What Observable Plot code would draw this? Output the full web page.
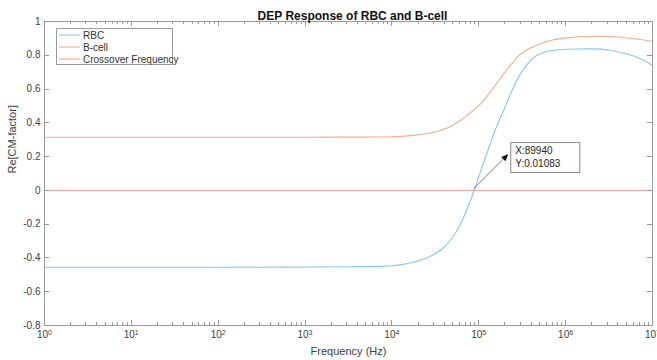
<!DOCTYPE html>
<html><head><meta charset="utf-8">
<script src="https://cdn.jsdelivr.net/npm/d3@7"></script>
<script src="https://cdn.jsdelivr.net/npm/@observablehq/plot@0.6"></script>
<style>body{margin:0;background:#fff;} #chart{width:657px;height:360px;}</style>
</head><body><div id="chart"></div>
<script>
const title = "DEP Response of RBC and B-cell";
const xLabel = "Frequency (Hz)";
const yLabel = "Re[CM-factor]";
const seriesNames = ["RBC", "B-cell", "Crossover Frequency"];
const seriesColors = ["#8cc3ea", "#f3ab8c", "#ff9898"];

const rbcFreq = [1, 10, 100, 1000, 3162, 7328, 10000, 17783, 25119, 35975, 44668, 56234, 72444, 89940, 108893, 128825, 158489, 193197, 251189, 301995, 358922, 426580, 512861, 707946, 870964, 1258925, 2089296, 3162278, 4265795, 6606934, 7943282, 10000000];
const rbcValue = [-0.455, -0.455, -0.455, -0.454, -0.452, -0.450, -0.446, -0.425, -0.400, -0.356, -0.310, -0.237, -0.119, 0.011, 0.137, 0.245, 0.370, 0.473, 0.611, 0.690, 0.745, 0.785, 0.810, 0.828, 0.833, 0.837, 0.838, 0.830, 0.818, 0.789, 0.770, 0.740];

const bcellFreq = [1, 10, 100, 1000, 7328, 10000, 17783, 25119, 35975, 47863, 61235, 75858, 95499, 114815, 134896, 158489, 193197, 239883, 300608, 398107, 512861, 707946, 1037528, 1412538, 2089296, 3162278, 4265795, 6309573, 10000000];
const bcellValue = [0.315, 0.315, 0.315, 0.315, 0.316, 0.318, 0.326, 0.337, 0.355, 0.380, 0.414, 0.450, 0.493, 0.535, 0.582, 0.630, 0.690, 0.750, 0.805, 0.845, 0.868, 0.890, 0.903, 0.910, 0.913, 0.911, 0.907, 0.898, 0.883];

const crossoverFreq = [1, 10000000];
const crossoverValue = [0, 0];

const xMajorTicks = [1, 10, 100, 1000, 10000, 100000, 1000000, 10000000];
const xTickExponents = ["0", "1", "2", "3", "4", "5", "6", "7"];
const yTicks = [-0.8, -0.6, -0.4, -0.2, 0, 0.2, 0.4, 0.6, 0.8, 1];
const yTickLabels = ["-0.8", "-0.6", "-0.4", "-0.2", "0", "0.2", "0.4", "0.6", "0.8", "1"];
const tipX = 89940;
const tipY = 0.01083;
const tipLines = ["X:89940", "Y:0.01083"];

const xMinorTicks = xMajorTicks.slice(0, -1).flatMap(d => [2,3,4,5,6,7,8,9].map(m => d * m));
const rbc = rbcFreq.map((f, i) => ({f, v: rbcValue[i]}));
const bcell = bcellFreq.map((f, i) => ({f, v: bcellValue[i]}));
const cross = crossoverFreq.map((f, i) => ({f, v: crossoverValue[i]}));
const xTickRows = xMajorTicks.map((d, i) => ({d, e: xTickExponents[i]}));

const axisColor = "#9a9a9a";
const font = "'Liberation Sans', Arial, Helvetica, sans-serif";

const plot = Plot.plot({
  width: 657, height: 360,
  marginLeft: 44, marginRight: 5, marginTop: 21, marginBottom: 35,
  style: {fontFamily: font, fontSize: "10px", color: "#404040", background: "#fff", overflow: "visible"},
  x: {type: "log", domain: [1, 10000000], axis: null},
  y: {domain: [-0.8, 1]},
  marks: [
    Plot.line(cross, {x: "f", y: "v", stroke: seriesColors[2], strokeWidth: 1}),
    Plot.line(bcell, {x: "f", y: "v", stroke: seriesColors[1], strokeWidth: 1.1, curve: "monotone-x"}),
    Plot.line(rbc, {x: "f", y: "v", stroke: seriesColors[0], strokeWidth: 1.1, curve: "monotone-x"}),
    Plot.frame({stroke: axisColor}),
    Plot.axisY(yTicks, {anchor: "left", tickSize: 0, tickPadding: 4, tickFormat: (d) => yTickLabels[yTicks.indexOf(d)], label: null, fill: "#404040"}),
    Plot.text(xTickRows, {x: "d", frameAnchor: "bottom", dx: -2, dy: 12.5, text: () => "10", fill: "#404040", fontSize: 10}),
    Plot.text(xTickRows, {x: "d", frameAnchor: "bottom", dx: 3.5, dy: 9, text: "e", textAnchor: "start", fill: "#404040", fontSize: 7}),
    Plot.text([xLabel], {frameAnchor: "bottom", dy: 29, text: d => d, fontSize: 11, fill: "#404040"}),
    Plot.text([yLabel], {frameAnchor: "left", dx: -32, rotate: -90, text: d => d, fontSize: 11, fill: "#404040"}),
    Plot.text([title], {frameAnchor: "top", dx: 4, dy: -10, text: d => d, fontSize: 12, fontWeight: "bold", fill: "#111"})
  ]
});
document.getElementById("chart").appendChild(plot);

const svg = d3.select(plot);
const sx = plot.scale("x"), sy = plot.scale("y");
const [frameL, frameR] = sx.range;
const [frameB, frameT] = sy.range;

// Inward ticks, placed through the plot's own scales
const tg0 = svg.append("g").attr("stroke", axisColor).attr("stroke-width", 1);
const addX = (vals, len) => vals.forEach(v => {
  const x = Math.round(sx.apply(v)) + 0.5;
  tg0.append("line").attr("x1", x).attr("x2", x).attr("y1", frameB).attr("y2", frameB - len);
  tg0.append("line").attr("x1", x).attr("x2", x).attr("y1", frameT).attr("y2", frameT + len);
});
addX(xMajorTicks, 5);
addX(xMinorTicks, 3);
yTicks.forEach(v => {
  const y = Math.round(sy.apply(v)) + 0.5;
  tg0.append("line").attr("x1", frameL).attr("x2", frameL + 5).attr("y1", y).attr("y2", y);
  tg0.append("line").attr("x1", frameR).attr("x2", frameR - 5).attr("y1", y).attr("y2", y);
});

// Legend
const lg = svg.append("g").attr("font-family", font).attr("font-size", 10).attr("text-anchor", "start");
lg.append("rect").attr("x", 56.5).attr("y", 28.5).attr("width", 116).attr("height", 36)
  .attr("fill", "#fff").attr("stroke", axisColor).attr("stroke-width", 1);
seriesNames.forEach((name, i) => {
  const y = 35 + i * 12;
  lg.append("line").attr("x1", 59).attr("x2", 80).attr("y1", y).attr("y2", y)
    .attr("stroke", seriesColors[i]).attr("stroke-width", 1.1);
  lg.append("text").attr("x", 83).attr("y", y).attr("dy", "0.35em").attr("text-anchor", "start").attr("fill", "#333").text(name);
});

// Data tip
const px = sx.apply(tipX);
const py = sy.apply(tipY);
const tg = svg.append("g").attr("font-family", font).attr("font-size", 10).attr("text-anchor", "start");
const ex = px + 34, ey = py - 34;
const ang = Math.atan2(ey - py, ex - px);
const hl = 7, hw = 3;
const bx = ex - hl * Math.cos(ang), by = ey - hl * Math.sin(ang);
tg.append("line").attr("x1", px).attr("y1", py).attr("x2", bx).attr("y2", by).attr("stroke", "#555").attr("stroke-width", 0.8);
tg.append("polygon").attr("points", [
  [ex, ey],
  [bx + hw * Math.sin(ang), by - hw * Math.cos(ang)],
  [bx - hw * Math.sin(ang), by + hw * Math.cos(ang)]
].map(p => p.join(",")).join(" ")).attr("fill", "#111");
tg.append("rect").attr("x", px + 36.5).attr("y", py - 45.5).attr("width", 69).attr("height", 30)
  .attr("fill", "#fff").attr("stroke", "#888").attr("stroke-width", 1);
tipLines.forEach((t, i) => {
  tg.append("text").attr("x", px + 41).attr("y", py - 34 + i * 13).attr("text-anchor", "start").attr("fill", "#222").text(t);
});
</script>
</body></html>
